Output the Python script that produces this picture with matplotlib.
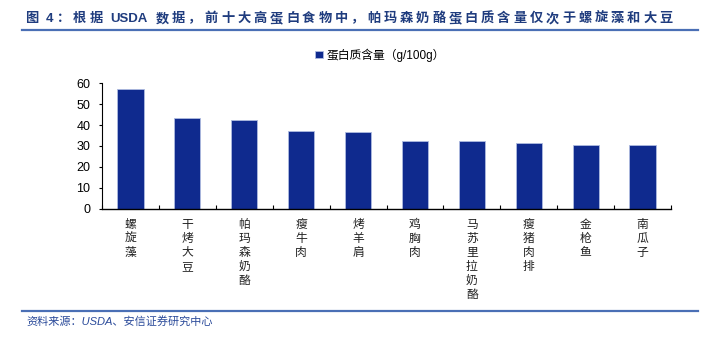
import matplotlib
matplotlib.use("Agg")
from matplotlib import pyplot as plt
import numpy as np
import re

plt.rcParams['font.family'] = ['Liberation Sans', 'Noto Sans CJK SC', 'DejaVu Sans']

# protein content per 100g for the top ten foods
foods = ["螺旋藻", "干烤大豆", "帕玛森奶酪", "瘦牛肉", "烤羊肩",
         "鸡胸肉", "马苏里拉奶酪", "瘦猪肉排", "金枪鱼", "南瓜子"]
protein = [57.5, 43.5, 42.4, 37.1, 36.5, 32.5, 32.5, 31.3, 30.2, 30.2]
yticks = [0, 10, 20, 30, 40, 50, 60]

title = "图 4：根据 USDA 数据，前十大高蛋白食物中，帕玛森奶酪蛋白质含量仅次于螺旋藻和大豆"
source = "资料来源：USDA、安信证券研究中心"
series_name = "蛋白质含量（g/100g）"

bar_color = "#0f2a8e"
title_color = "#1f3c7e"
rule_color = "#4a6fb5"

W, H = 706, 341
fig = plt.figure(figsize=(W / 100, H / 100), dpi=100)
ax = fig.add_axes([102 / W, 1 - 208.5 / H, (671 - 102) / W, (208.5 - 83.3) / H])

x = np.arange(len(foods))
ax.bar(x, protein, width=0.46, color=bar_color, edgecolor="#aebbe0", linewidth=0.6,
       label=series_name, zorder=2)

ax.set_xlim(-0.5, len(foods) - 0.5)
ax.set_ylim(0, 60)
ax.set_yticks(yticks)
ax.tick_params(axis='y', direction='out', length=2.5, width=0.8, labelsize=9, pad=6)
ax.set_yticklabels([str(v) for v in yticks], fontfamily='Liberation Sans')

# category ticks sit between the bars and point inward
ax.set_xticks(np.arange(len(foods) + 1) - 0.5)
ax.set_xticklabels([])
ax.tick_params(axis='x', direction='in', length=3, width=0.8)
for i, name in enumerate(foods):
    ax.text(i, -4.5, "\n".join(name), ha='center', va='top', fontsize=8.5,
            family=['Noto Sans CJK SC'], linespacing=1.1, color="#222222")

for s in ["top", "right"]:
    ax.spines[s].set_visible(False)
ax.spines["left"].set_linewidth(0.8)
ax.spines["bottom"].set_linewidth(1.0)

leg = fig.legend(loc='center', bbox_to_anchor=(380 / W, 1 - 55 / H), frameon=False,
                 handlelength=0.6, handleheight=0.6, handletextpad=0.3,
                 prop={'size': 8.5, 'family': ['Liberation Sans', 'Noto Sans CJK SC']})

# header: title spread out piece by piece (latin words kept whole), rule underneath
renderer = fig.canvas.get_renderer()
xpos = 25
for piece in re.findall(r"[A-Za-z0-9]+|.", title):
    if piece == " ":
        xpos += 5
        continue
    t = fig.text(xpos / W, 1 - 19 / H, piece, fontsize=9.5, fontweight='bold', color=title_color,
                 family=['Liberation Sans', 'Noto Sans CJK SC'], ha='left', va='center')
    xpos += t.get_window_extent(renderer).width + 3.0
fig.add_artist(plt.Line2D([22 / W, 698 / W], [1 - 30 / H, 1 - 30 / H], color=rule_color, lw=1.6))

# footer
fig.add_artist(plt.Line2D([22 / W, 698 / W], [1 - 311 / H, 1 - 311 / H], color=rule_color, lw=1.6))
fig.text(26 / W, 1 - 321 / H, source, fontsize=8, style='italic', color="#2a4a9a",
         family=['Liberation Sans', 'Noto Sans CJK SC'], ha='left', va='center')

fig.savefig("out.png", dpi=100)
